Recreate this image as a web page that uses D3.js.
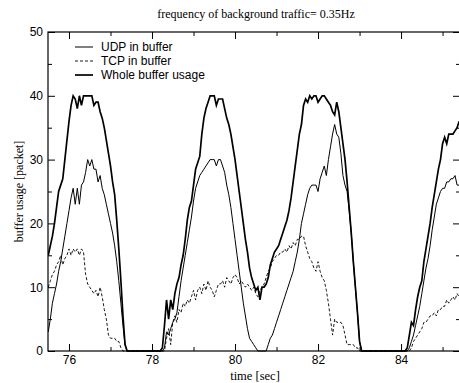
<!DOCTYPE html>
<html>
<head>
<meta charset="utf-8">
<script src="https://cdn.jsdelivr.net/npm/d3@7"></script>
<style>
body { margin: 0; background: #fff; }
</style>
</head>
<body>
<div class="chart"></div>
<script>
// sampled every 0.05 s starting at 75.50 s, one row per second
const startTime = 75.5;
const step = 0.05;

const udpInBuffer = [
  3,5,7.5,9,10.5,12.5,14,16,18,20,22,24,25.5,23,25.5,23,26,26.5,28,30,
  29,30,28.5,28.5,26.5,27.5,25.5,24.5,23,21.5,20,18.5,16.5,14,11,7.5,4,1,0,0,
  0,0,0,0,0,0,0,0,0,0,0,0,0,0,0,0,0.5,3,2.5,3.5,
  4.5,5,6,8.5,11,13,15,17,19,21,23.5,25.5,26.5,27.5,28,28.5,29,29.5,30,30,
  30,29,30,30,29,28,26,24.5,22.5,20,17.5,15,12.5,10,7.5,5.5,3.5,2,1.5,1,
  0.5,0,0,0,0,0,1,2,2.5,3.5,4.5,5.5,6.5,7.5,8.5,9.5,10.5,11.5,12.5,14,
  15.5,17.5,20,21.5,23,24.5,25.5,26,26,26,25,27,28,29,27.5,30,32,34,35.5,34,
  33.5,31,27.5,26,25,22,18.5,14,10,6,1.5,0,0,0,0,0,0,0,0,0,
  0,0,0,0,0,0,0,0,0,0,0,0,0,0,0.5,1.5,2.5,4,5.5,7,
  9,11,13,14.5,16.5,19,21,23,24,25,25.5,25.5,26.5,26.5,27,27,27.5,26,26
];

const tcpInBuffer = [
  10,11,12,12.5,13.5,14,15,13.5,14.5,15,16,15,16,15.5,16,15,16,15.5,12,10.5,
  10,9.5,9,9.5,8.5,10,8.5,6.5,5,2.5,2,2,2,1.5,1.5,0.5,0,0,0,0,
  0,0,0,0,0,0,0,0,0,0,0,0,0,0,0,0,0,2,3.5,1,
  4.5,5.5,4.5,6.5,6,7.5,7,8,7.5,8.5,9.5,8,9.5,10,9,10.5,9.5,11,10,9.5,
  8.5,9.5,10.5,10.5,11,10,11.5,11,10.5,11.5,12,11.5,10.5,11,10.5,10,10.5,10,9.5,10,
  9,8.5,9.5,10,10.5,11.5,12.5,13,14,14.5,15,15,15.5,15.5,16,15.5,16.5,16,17,16.5,
  17.5,17.5,18,18,16.5,15.5,14.5,14,13,12.5,14,12.5,11.5,11,9.5,7.5,5,2.5,5,4.5,
  4.5,4.5,4,2.5,1,1,1,1,0.5,0.5,0,0,0,0,0,0,0,0,0,0,
  0,0,0,0,0,0,0,0,0,0,0,0,0,0,0,0.5,1.5,2,2.5,3,
  3.5,4.5,4.5,5,5.5,5.5,6,5.5,6.5,6.5,7,7,8,7.5,8,8.5,8,9,8.5
];

const wholeBuffer = [
  15,16.5,18,20,22.5,25,26,27,30,33,36,38.5,40,39.5,38,40,38.5,40,40,40,
  40,40,38.5,39,39,37.5,36.5,35,33,31,29,26.5,24.5,20.5,16,11,5.5,1,0,0,
  0,0,0,0,0,0,0,0,0,0,0,0,0,0,0,0.5,4,8,5,8,
  6.5,9,10.5,11.5,13.5,15,17.5,20.5,22.5,23.5,26,28.5,29.5,30.5,34,36.5,38,39,40,40,
  40,38.5,39.5,39.5,39.5,38,36.5,35.5,34,32,30,27.5,25,22.5,20,17.5,15.5,13,11.5,10.5,
  9.5,10,8,10,10,10.5,11.5,13.5,14.5,15.5,16,16.5,17.5,18.5,19.5,20.5,22,24,26.5,29,
  31.5,34,35.5,38.5,39.5,39,40,39.5,40,40,39,39.5,40,40,39.5,39,38.5,37.5,37,39,
  37.5,35,32.5,30,26.5,22.5,18.5,14,10,6,1.5,0,0,0,0,0,0,0,0,0,
  0,0,0,0,0,0,0,0,0,0,0,0,0,0.5,2.5,4.5,4,6.5,8.5,10,
  11,14,16,18,20,22.5,24.5,26.5,28.5,30,32.5,33.5,32.5,34,34,34,34.5,35,36
];

const xMajor = [76, 78, 80, 82, 84];
const xMinor = [77, 79, 81, 83, 85];
const yMajor = [0, 10, 20, 30, 40, 50];
const yMinor = [5, 15, 25, 35, 45];

const legendNames = ["UDP in buffer", "TCP in buffer", "Whole buffer usage"];

const width = 459, height = 383;
const plotLeft = 48, plotRight = 460, plotTop = 32, plotBottom = 351;

const svg = d3.select(".chart").append("svg")
    .attr("width", width)
    .attr("height", height);

const x = d3.scaleLinear().domain([75.494, 85.42]).range([plotLeft, plotRight]);
const y = d3.scaleLinear().domain([0, 50]).range([plotBottom, plotTop]);

const times = udpInBuffer.map(function(d, i) { return startTime + i * step; });

function styleAxis(g) {
    g.attr("font-family", "'Liberation Sans', Arial, sans-serif")
     .attr("font-size", 12);
    g.selectAll("line").attr("stroke", "#000");
    g.selectAll("text").attr("fill", "#000");
    g.select(".domain").remove();
}

// bottom axis with labels
svg.append("g")
    .attr("transform", "translate(0," + plotBottom + ")")
    .call(d3.axisBottom(x).tickValues(xMajor).tickSizeInner(-7).tickSizeOuter(0)
        .tickPadding(4).tickFormat(d3.format("d")))
    .call(styleAxis);
svg.append("g")
    .attr("transform", "translate(0," + plotBottom + ")")
    .call(d3.axisBottom(x).tickValues(xMinor).tickSizeInner(-4).tickFormat(""))
    .call(styleAxis);

// top mirror ticks
svg.append("g")
    .attr("transform", "translate(0," + plotTop + ")")
    .call(d3.axisTop(x).tickValues(xMajor).tickSizeInner(-7).tickFormat(""))
    .call(styleAxis);
svg.append("g")
    .attr("transform", "translate(0," + plotTop + ")")
    .call(d3.axisTop(x).tickValues(xMinor).tickSizeInner(-4).tickFormat(""))
    .call(styleAxis);

// left axis with labels
svg.append("g")
    .attr("transform", "translate(" + plotLeft + ",0)")
    .call(d3.axisLeft(y).tickValues(yMajor).tickSizeInner(-7).tickPadding(5)
        .tickFormat(d3.format("d")))
    .call(styleAxis);
svg.append("g")
    .attr("transform", "translate(" + plotLeft + ",0)")
    .call(d3.axisLeft(y).tickValues(yMinor).tickSizeInner(-4).tickFormat(""))
    .call(styleAxis);

// right mirror ticks
svg.append("g")
    .attr("transform", "translate(" + plotRight + ",0)")
    .call(d3.axisRight(y).tickValues(yMajor).tickSizeInner(-7).tickFormat(""))
    .call(styleAxis);
svg.append("g")
    .attr("transform", "translate(" + plotRight + ",0)")
    .call(d3.axisRight(y).tickValues(yMinor).tickSizeInner(-4).tickFormat(""))
    .call(styleAxis);

// frame
svg.append("rect")
    .attr("x", plotLeft).attr("y", plotTop)
    .attr("width", plotRight - plotLeft).attr("height", plotBottom - plotTop)
    .attr("fill", "none").attr("stroke", "#000").attr("stroke-width", 1.2);

svg.append("defs").append("clipPath").attr("id", "plotclip")
  .append("rect")
    .attr("x", plotLeft).attr("y", plotTop - 2)
    .attr("width", plotRight - plotLeft).attr("height", plotBottom - plotTop + 3);

function lineFor(values) {
    return d3.line()
        .x(function(d, i) { return x(times[i]); })
        .y(function(d) { return y(d); })(values);
}

const plot = svg.append("g").attr("clip-path", "url(#plotclip)");

plot.append("path")
    .attr("d", lineFor(tcpInBuffer))
    .attr("fill", "none").attr("stroke", "#000")
    .attr("stroke-width", 0.9).attr("stroke-dasharray", "3,2");

plot.append("path")
    .attr("d", lineFor(udpInBuffer))
    .attr("fill", "none").attr("stroke", "#000")
    .attr("stroke-width", 1);

plot.append("path")
    .attr("d", lineFor(wholeBuffer))
    .attr("fill", "none").attr("stroke", "#000")
    .attr("stroke-width", 1.7);

// legend
const legendStyles = [
    { w: 1, dash: null },
    { w: 0.9, dash: "3,2" },
    { w: 1.7, dash: null }
];
const legend = svg.append("g")
    .attr("font-family", "'Liberation Sans', Arial, sans-serif")
    .attr("font-size", 12);
legendNames.forEach(function(name, i) {
    const ly = 47 + i * 14;
    legend.append("line")
        .attr("x1", 75).attr("x2", 93)
        .attr("y1", ly).attr("y2", ly)
        .attr("stroke", "#000")
        .attr("stroke-width", legendStyles[i].w)
        .attr("stroke-dasharray", legendStyles[i].dash);
    legend.append("text")
        .attr("x", 101).attr("y", ly)
        .attr("dy", "0.35em")
        .text(name);
});

// titles
svg.append("text")
    .attr("x", 256).attr("y", 18)
    .attr("text-anchor", "middle")
    .attr("font-family", "'Liberation Serif', 'Times New Roman', serif")
    .attr("font-size", 12)
    .text("frequency of background traffic= 0.35Hz");

svg.append("text")
    .attr("x", 255).attr("y", 380)
    .attr("text-anchor", "middle")
    .attr("font-family", "'Liberation Serif', 'Times New Roman', serif")
    .attr("font-size", 12.5)
    .text("time [sec]");

svg.append("text")
    .attr("transform", "translate(23," + ((plotTop + plotBottom) / 2) + ") rotate(-90)")
    .attr("text-anchor", "middle")
    .attr("font-family", "'Liberation Serif', 'Times New Roman', serif")
    .attr("font-size", 12)
    .text("buffer usage [packet]");
</script>
</body>
</html>
